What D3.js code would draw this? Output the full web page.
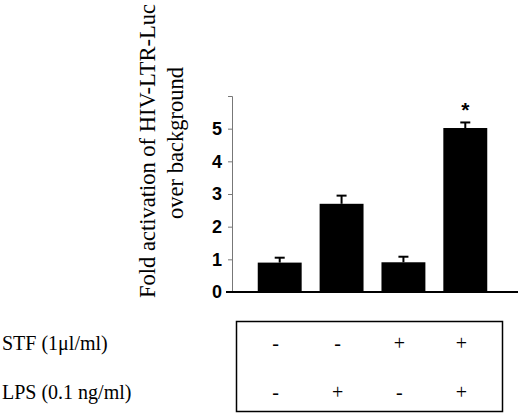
<!DOCTYPE html>
<html>
<head>
<meta charset="utf-8">
<script src="https://cdn.jsdelivr.net/npm/d3@7"></script>
<style>
  body { margin: 0; background: #fff; }
  svg { display: block; }
</style>
</head>
<body>
<div id="chart-area"></div>
<script>

var groups = ["g1", "g2", "g3", "g4"];
var values = [0.90, 2.70, 0.91, 5.02];
var errors = [0.15, 0.25, 0.17, 0.17];
var signif = ["", "", "", "*"];
var yTicks = [0, 1, 2, 3, 4, 5];
var rowLabels = ["STF (1\u03bcl/ml)", "LPS (0.1 ng/ml)"];
var stfSigns = ["-", "-", "+", "+"];
var lpsSigns = ["-", "+", "-", "+"];

var width = 520, height = 413;

var svg = d3.select("#chart-area")
    .append("svg")
        .attr("width", width)
        .attr("height", height);

var yScale = d3.scaleLinear().domain([0, 6]).range([292, 96]);
var xScale = d3.scaleBand()
    .domain(groups)
    .range([233, 512])
    .paddingInner(0.29)
    .paddingOuter(0.4);

// y axis (thin grey line, small ticks)
var yAxis = d3.axisLeft(yScale)
    .tickValues(d3.range(0, 7))
    .tickSize(4)
    .tickPadding(6)
    .tickFormat(function(d) { return yTicks.indexOf(d) >= 0 ? d : ""; });

var yAxisEl = svg.append("g")
    .attr("transform", "translate(232,0)")
    .call(yAxis);

yAxisEl.select(".domain").attr("stroke", "#777").attr("stroke-width", 1);
yAxisEl.selectAll(".tick line").attr("stroke", "#777");
yAxisEl.selectAll(".tick text")
    .attr("font-family", "Arial, 'Liberation Sans', sans-serif")
    .attr("font-weight", "bold")
    .attr("font-size", 18)
    .attr("fill", "#000");

// baseline
svg.append("line")
    .attr("x1", 226).attr("x2", 518)
    .attr("y1", yScale(0)).attr("y2", yScale(0))
    .attr("stroke", "#000").attr("stroke-width", 2);

// bars
svg.selectAll("rect.bar")
    .data(values)
    .enter()
    .append("rect")
        .attr("class", "bar")
        .attr("x", function(d, i) { return xScale(groups[i]); })
        .attr("y", function(d) { return yScale(d); })
        .attr("width", xScale.bandwidth())
        .attr("height", function(d) { return yScale(0) - yScale(d); })
        .attr("fill", "#000");

// error bars
var eb = svg.selectAll("g.err")
    .data(values)
    .enter()
    .append("g")
        .attr("class", "err")
        .attr("stroke", "#000")
        .attr("stroke-width", 2);

eb.append("line")
    .attr("x1", function(d, i) { return xScale(groups[i]) + xScale.bandwidth() / 2; })
    .attr("x2", function(d, i) { return xScale(groups[i]) + xScale.bandwidth() / 2; })
    .attr("y1", function(d) { return yScale(d); })
    .attr("y2", function(d, i) { return yScale(d + errors[i]); });

eb.append("line")
    .attr("x1", function(d, i) { return xScale(groups[i]) + xScale.bandwidth() / 2 - 5; })
    .attr("x2", function(d, i) { return xScale(groups[i]) + xScale.bandwidth() / 2 + 5; })
    .attr("y1", function(d, i) { return yScale(d + errors[i]); })
    .attr("y2", function(d, i) { return yScale(d + errors[i]); });

// significance marks
svg.selectAll("text.sig")
    .data(values)
    .enter()
    .append("text")
        .attr("class", "sig")
        .attr("x", function(d, i) { return xScale(groups[i]) + xScale.bandwidth() / 2; })
        .attr("y", function(d, i) { return yScale(d + errors[i]) - 5; })
        .attr("text-anchor", "middle")
        .attr("font-family", "Arial, 'Liberation Sans', sans-serif")
        .attr("font-weight", "bold")
        .attr("font-size", 21)
        .text(function(d, i) { return signif[i]; });

// y label
var ylab = svg.append("text")
    .attr("transform", "rotate(-90)")
    .attr("text-anchor", "middle")
    .attr("font-family", "'Times New Roman', 'Liberation Serif', serif")
    .attr("font-size", 22.5)
    .attr("fill", "#000");
ylab.append("tspan").attr("x", -151).attr("y", 155).text("Fold activation of HIV-LTR-Luc");
ylab.append("tspan").attr("x", -143).attr("y", 183).text("over background");

// treatment table
svg.append("rect")
    .attr("x", 236.5).attr("y", 321.5)
    .attr("width", 266).attr("height", 90)
    .attr("fill", "none")
    .attr("stroke", "#000")
    .attr("stroke-width", 1.5);

var rowY = [343, 392];
var rows = [stfSigns, lpsSigns];

svg.selectAll("text.rowlab")
    .data(rowLabels)
    .enter()
    .append("text")
        .attr("class", "rowlab")
        .attr("x", 2)
        .attr("y", function(d, i) { return rowY[i]; })
        .attr("dy", "0.35em")
        .attr("font-family", "'Times New Roman', 'Liberation Serif', serif")
        .attr("font-size", 20)
        .text(function(d) { return d; });

rows.forEach(function(signs, r) {
    svg.selectAll("text.sign" + r)
        .data(signs)
        .enter()
        .append("text")
            .attr("class", "sign" + r)
            .attr("x", function(d, i) { return xScale(groups[i]) + xScale.bandwidth() / 2 - 4; })
            .attr("y", rowY[r])
            .attr("dy", "0.35em")
            .attr("text-anchor", "middle")
            .attr("font-family", "'Times New Roman', 'Liberation Serif', serif")
            .attr("font-size", 20)
            .text(function(d) { return d; });
});

</script>
</body>
</html>
